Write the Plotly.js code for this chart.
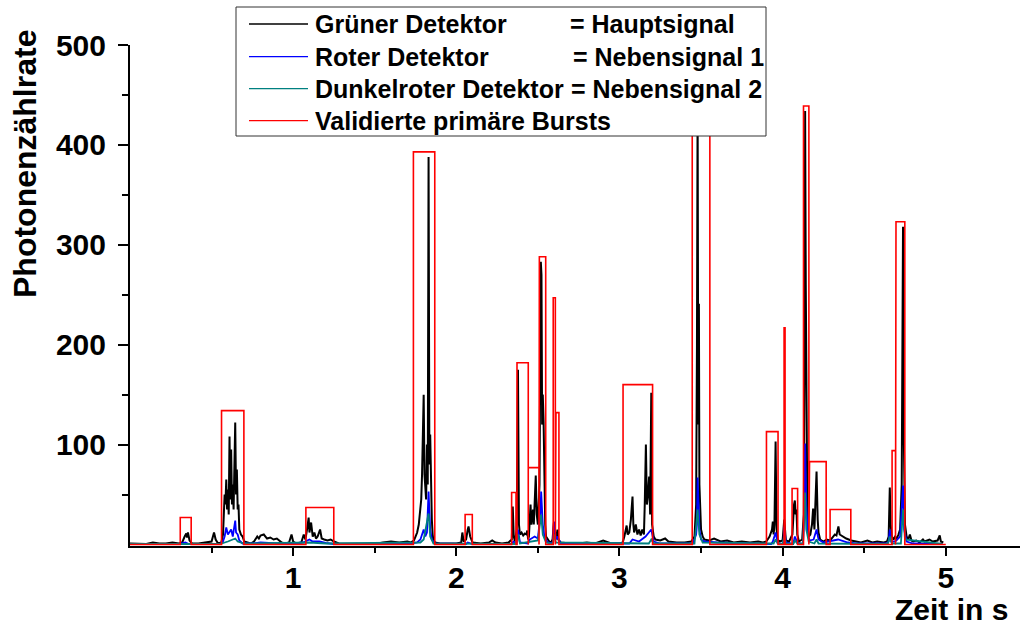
<!DOCTYPE html>
<html>
<head>
<meta charset="utf-8">
<script src="https://cdn.plot.ly/plotly-3.0.1.min.js"></script>
<style>html,body{margin:0;padding:0;background:#fff;}#chart{width:1023px;height:626px;}</style>
</head>
<body>
<div id="chart"></div>
<script>
// ---- Data ----
const greenT = [0.00,0.05,0.10,0.14,0.18,0.22,0.26,0.30,0.32,0.335,0.345,0.35,0.355,0.365,0.38,0.42,0.46,0.50,0.515,0.525,0.54,0.56,0.57,0.575,0.58,0.585,0.59,0.595,0.60,0.605,0.61,0.615,0.62,0.625,0.63,0.635,0.64,0.645,0.65,0.655,0.66,0.665,0.67,0.68,0.69,0.70,0.72,0.74,0.76,0.78,0.79,0.80,0.82,0.84,0.86,0.88,0.90,0.92,0.93,0.95,0.975,0.99,1.00,1.02,1.05,1.065,1.075,1.085,1.095,1.10,1.11,1.12,1.13,1.14,1.15,1.165,1.175,1.19,1.21,1.23,1.25,1.28,1.30,1.35,1.40,1.45,1.50,1.55,1.60,1.65,1.70,1.72,1.74,1.75,1.76,1.77,1.78,1.785,1.79,1.795,1.80,1.805,1.81,1.815,1.82,1.825,1.83,1.835,1.84,1.845,1.85,1.855,1.86,1.87,1.90,1.95,2.00,2.03,2.037,2.045,2.06,2.07,2.075,2.085,2.10,2.15,2.20,2.22,2.24,2.28,2.32,2.34,2.346,2.352,2.36,2.37,2.378,2.384,2.39,2.40,2.41,2.42,2.43,2.435,2.44,2.445,2.45,2.455,2.46,2.465,2.47,2.475,2.48,2.487,2.493,2.50,2.505,2.51,2.515,2.518,2.522,2.526,2.53,2.535,2.54,2.545,2.55,2.56,2.57,2.58,2.59,2.598,2.605,2.612,2.62,2.625,2.64,2.70,2.75,2.80,2.85,2.90,2.95,3.00,3.02,3.03,3.044,3.05,3.06,3.07,3.08,3.085,3.09,3.10,3.11,3.12,3.13,3.14,3.15,3.155,3.162,3.168,3.175,3.182,3.188,3.195,3.20,3.21,3.22,3.25,3.28,3.30,3.35,3.40,3.44,3.46,3.47,3.475,3.479,3.483,3.487,3.49,3.50,3.51,3.52,3.55,3.58,3.62,3.66,3.70,3.75,3.80,3.85,3.88,3.90,3.92,3.935,3.94,3.945,3.95,3.957,3.963,3.97,3.98,4.00,4.01,4.02,4.04,4.06,4.07,4.075,4.08,4.085,4.09,4.10,4.12,4.13,4.135,4.138,4.142,4.147,4.152,4.16,4.17,4.18,4.187,4.195,4.20,4.208,4.215,4.22,4.23,4.25,4.27,4.29,4.31,4.32,4.33,4.342,4.35,4.37,4.39,4.42,4.45,4.48,4.52,4.55,4.58,4.62,4.64,4.65,4.657,4.662,4.67,4.68,4.69,4.70,4.71,4.72,4.73,4.735,4.738,4.742,4.75,4.76,4.77,4.78,4.79,4.80,4.82,4.84,4.86,4.87,4.90,4.92,4.95,4.963,4.97,4.985];
const greenV = [1,1,0.5,2,1,1,2,1,2,8,11,7,12,4,1,1,2,3,12,5,1,2,10,25,50,40,65,35,55,30,108,45,95,40,60,35,80,122,50,75,35,40,15,10,8,3,2,1,3,8,6,9,10,6,7,5,6,3,2,1,2,10,3,1,2,10,5,15,27,12,22,8,12,6,8,15,6,5,4,5,3,1,1,0.5,1,1,0.5,2,3,2,3,2,4,8,12,20,35,45,70,100,150,70,55,45,100,60,388,80,110,40,25,10,4,2,1,1,1,2,12,3,5,15,18,8,2,1,2,4,2,1,2,5,38,8,3,15,175,20,10,12,9,11,10,14,5,8,25,40,20,30,35,20,50,69,30,20,40,60,200,283,270,120,150,123,60,20,8,5,3,2,5,22,8,6,15,5,2,1,1,2,1,4,1,1,2,8,19,10,12,25,48,20,12,20,10,15,9,15,10,40,100,40,50,68,30,152,20,8,5,4,6,3,2,2,3,8,40,200,445,120,241,60,15,8,5,4,6,3,4,2,3,2,3,2,3,8,15,23,10,20,103,15,5,3,4,25,4,3,10,40,44,30,35,10,3,5,30,200,434,260,100,20,8,10,20,36,15,40,73,25,12,5,3,5,4,8,10,9,18,10,8,6,4,3,2,4,2,3,2,3,8,57,20,8,5,8,6,10,15,60,221,318,120,20,8,5,10,4,3,4,2,5,3,5,3,4,9,3,2];

const redT = [0.00,0.30,0.34,0.36,0.55,0.57,0.58,0.59,0.60,0.61,0.62,0.63,0.64,0.645,0.65,0.66,0.67,0.69,0.75,0.80,0.85,0.90,1.00,1.06,1.10,1.12,1.16,1.20,1.25,1.70,1.76,1.78,1.80,1.81,1.82,1.83,1.84,1.85,1.87,2.06,2.07,2.10,2.34,2.35,2.37,2.378,2.39,2.44,2.45,2.48,2.50,2.515,2.52,2.53,2.54,2.56,2.59,2.599,2.61,2.62,2.64,3.00,3.06,3.08,3.12,3.16,3.195,3.21,3.25,3.45,3.47,3.475,3.479,3.485,3.49,3.50,3.52,3.60,3.80,3.93,3.94,3.957,3.97,4.005,4.01,4.02,4.065,4.075,4.09,4.125,4.13,4.138,4.145,4.155,4.165,4.19,4.208,4.22,4.25,4.34,4.40,4.45,4.64,4.65,4.657,4.665,4.69,4.72,4.738,4.745,4.76,4.80,4.98];
const redV = [0.3,0.5,2,0.5,0.5,3,8,17,10,12,15,8,18,24,12,10,4,1,1,2,1.5,1,1,2,5,3,3,1.5,0.5,0.5,2,5,15,8,12,53,15,5,1,0.5,2,0.5,0.5,3,1,15,2,1,5,8,6,30,53,20,8,2,1,23,5,8,1,0.5,1,5,3,8,15,3,1,1,10,20,67,40,15,5,3,2,1,0.5,3,12,1,0.5,18,2,0.5,8,2,0.5,20,101,40,10,4,5,15,5,2,5,2,1,1,3,15,3,3,8,59,15,3,1,0.5];

const darkRedT = [0.00,0.55,0.60,0.645,0.66,0.70,1.10,1.20,1.78,1.80,1.83,1.84,1.86,2.36,2.378,2.39,2.50,2.52,2.53,2.55,2.59,2.599,2.61,3.18,3.195,3.21,3.46,3.479,3.49,3.51,3.945,3.957,3.97,4.00,4.01,4.02,4.065,4.075,4.09,4.125,4.138,4.145,4.16,4.195,4.208,4.22,4.645,4.657,4.67,4.725,4.738,4.75,4.98];
const darkRedV = [0.5,0.5,3,6,3,1,2,1,2,5,31,8,1,0.5,10,1,4,30,10,2,0.5,10,2,1,5,1,1,35,10,2,1,5,1,0.5,8,1,0.5,4,1,1,52,15,3,1,5,1,0.5,8,1,1,35,5,0.5];

const burstStart  = [0.308,0.561,1.078,1.737,2.054,2.339,2.372,2.441,2.509,2.594,2.611,3.022,3.446,3.901,4.009,4.058,4.128,4.165,4.291,4.671,4.695];
const burstEnd    = [0.375,0.698,1.249,1.868,2.098,2.366,2.441,2.507,2.548,2.607,2.629,3.203,3.554,3.972,4.015,4.092,4.161,4.267,4.418,4.692,4.749];
const burstHeight = [27,134,37,393,30,52,182,77,288,247,132,160,450,113,217,56,439,83,35,94,323];

const seriesNames = ["Grüner Detektor", "Roter Detektor", "Dunkelroter Detektor", "Validierte primäre Bursts"];
const seriesMeaning = ["= Hauptsignal", "= Nebensignal 1", "= Nebensignal 2", ""];
const xTicks = [1,2,3,4,5];
const yTicks = [100,200,300,400,500];
const xTitle = "Zeit in s";
const yTitle = "Photonenzählrate";

// ---- Build burst indicator step trace ----
const bx = [0], by = [0];
for (let i = 0; i < burstStart.length; i++) {
  bx.push(burstStart[i], burstStart[i], burstEnd[i], burstEnd[i]);
  by.push(0, burstHeight[i], burstHeight[i], 0);
}
bx.push(5.0); by.push(0);

const colors = ["#000000", "#0000ff", "#008080", "#ff0000"];
const traces = [
  {x: greenT, y: greenV, name: seriesNames[0], mode: "lines", line: {color: colors[0], width: 2}, showlegend: false},
  {x: redT, y: redV, name: seriesNames[1], mode: "lines", line: {color: colors[1], width: 1.8}, showlegend: false},
  {x: darkRedT, y: darkRedV, name: seriesNames[2], mode: "lines", line: {color: colors[2], width: 1.8}, showlegend: false},
  {x: bx, y: by, name: seriesNames[3], mode: "lines", line: {color: colors[3], width: 1.6}, showlegend: false}
];

// ---- Layout helpers (pixel -> paper) ----
const L = 130, R = 1020, T = 45, B = 546;
const px = v => (v - L) / (R - L);
const py = v => (B - v) / (B - T);
const FONT = "Liberation Sans, Arial, sans-serif";

const legRows = [24, 56.7, 88.7, 120.7];
const shapes = [
  {type: "rect", xref: "paper", yref: "paper", x0: px(236), x1: px(766), y0: py(7), y1: py(136),
   fillcolor: "#ffffff", line: {color: "#333333", width: 1}, layer: "above"}
];
const annotations = [];
const eqX = [568, 571, 569];
legRows.forEach((r, i) => {
  shapes.push({type: "line", xref: "paper", yref: "paper", x0: px(249), x1: px(308), y0: py(r), y1: py(r),
               line: {color: colors[i], width: 1.3}, layer: "above"});
  annotations.push({xref: "paper", yref: "paper", x: px(313), y: py(r), xanchor: "left", yanchor: "middle",
                    text: seriesNames[i], showarrow: false, font: {family: FONT, size: 25, weight: 700, color: "#000"}});
  if (seriesMeaning[i]) {
    annotations.push({xref: "paper", yref: "paper", x: px(eqX[i]), y: py(r), xanchor: "left", yanchor: "middle",
                      text: seriesMeaning[i], showarrow: false, font: {family: FONT, size: 25, weight: 700, color: "#000"}});
  }
});
annotations.push({xref: "paper", yref: "paper", x: px(951), y: py(609), xanchor: "center", yanchor: "middle",
                  text: xTitle, showarrow: false, borderpad: 0, font: {family: FONT, size: 30, weight: 700, color: "#000"}});
annotations.push({xref: "paper", yref: "paper", x: px(25), y: py(164), xanchor: "center", yanchor: "middle",
                  text: yTitle, textangle: -90, showarrow: false, borderpad: 0, font: {family: FONT, size: 32, weight: 700, color: "#000"}});

const layout = {
  width: 1023, height: 626,
  margin: {l: L, r: 1023 - R, t: T, b: 626 - B, pad: 0},
  paper_bgcolor: "#ffffff", plot_bgcolor: "#ffffff",
  showlegend: false,
  font: {family: FONT, color: "#000"},
  xaxis: {
    range: [0, 5.455], showgrid: false, zeroline: false, showline: true, linecolor: "#000", linewidth: 2,
    tickmode: "array", tickvals: xTicks, ticktext: xTicks.map(String),
    ticks: "outside", ticklen: 8, tickwidth: 2, tickcolor: "#000", ticklabelstandoff: -4,
    tickfont: {family: FONT, size: 30, weight: 700, color: "#000"},
    minor: {tickvals: [0.5,1.5,2.5,3.5,4.5], ticks: "outside", ticklen: 5, tickwidth: 2, tickcolor: "#000"}
  },
  yaxis: {
    range: [-1.5, 500], showgrid: false, zeroline: false, showline: true, linecolor: "#000", linewidth: 2,
    tickmode: "array", tickvals: yTicks, ticktext: yTicks.map(String),
    ticks: "outside", ticklen: 10, tickwidth: 2, tickcolor: "#000", ticklabelstandoff: 6,
    tickfont: {family: FONT, size: 30, weight: 700, color: "#000"},
    minor: {tickvals: [50,150,250,350,450], ticks: "outside", ticklen: 6, tickwidth: 2, tickcolor: "#000"}
  },
  shapes: shapes,
  annotations: annotations
};

Plotly.newPlot("chart", traces, layout, {displayModeBar: false, staticPlot: true});
</script>
</body>
</html>
